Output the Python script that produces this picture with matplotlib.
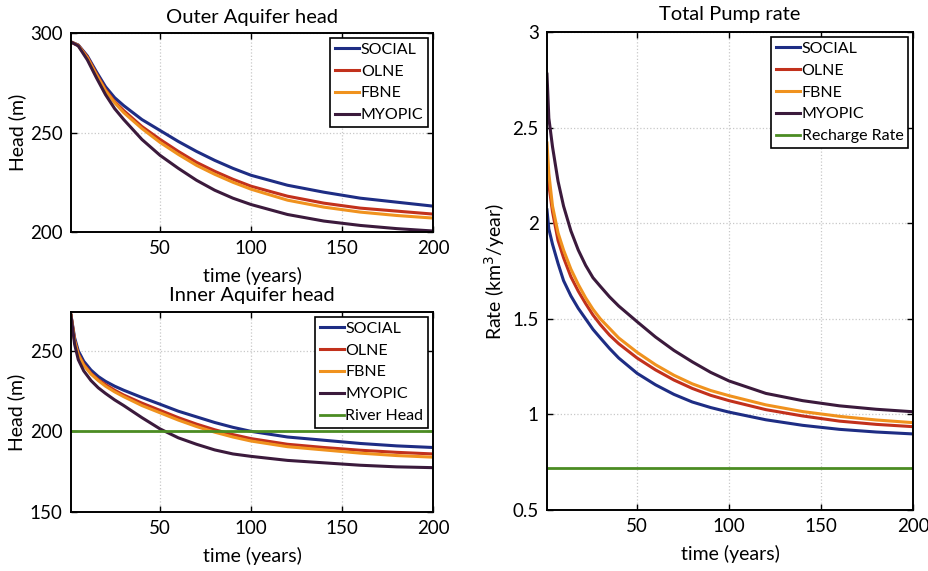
import numpy as np
import matplotlib
matplotlib.use('Agg')
import matplotlib.pyplot as plt

plt.rcParams['font.family'] = ['Lato', 'DejaVu Sans']

labels = ['SOCIAL', 'OLNE', 'FBNE', 'MYOPIC']
colors = ['#1e2d84', '#c2311c', '#f0921e', '#3b1a3c']
green = '#4b8c22'

# outer aquifer head (m)
t_outer = [1, 5, 10, 15, 20, 25, 30, 40, 50, 60, 70, 80, 90, 100, 120, 140, 160, 180, 200]
outer_social = [295.5, 294, 288.5, 280.5, 273, 267.5, 263.5, 256.5, 251, 245.5, 240.5, 236, 232, 228.5, 223.5, 220, 217, 215, 213]
outer_olne = [295.5, 293.8, 288, 279.5, 271.5, 265.5, 261, 253, 246.5, 240.5, 235, 230.5, 226.5, 223, 218, 214.5, 212, 210.5, 209]
outer_fbne = [295.5, 293.7, 287.5, 279, 271, 265, 260, 252, 245, 239, 233.5, 229, 225, 221.5, 216, 212.5, 210, 208.3, 207]
outer_myopic = [295.5, 293.5, 286.5, 277.5, 269, 262, 256.5, 246.5, 238.5, 232, 226, 221, 217, 213.8, 208.8, 205.5, 203.3, 201.7, 200.5]

# inner aquifer head (m)
t_inner = [1, 3, 5, 8, 12, 16, 20, 25, 30, 40, 50, 60, 70, 80, 90, 100, 120, 140, 160, 180, 200]
inner_social = [272, 258, 250, 243.5, 238, 234, 231, 228, 225.5, 221, 216.8, 212.5, 209, 205.5, 202.5, 200, 196.5, 194.5, 192.5, 191, 190]
inner_olne = [272, 256.5, 248, 241.5, 236, 232, 229, 225.5, 222.5, 217.5, 213, 208.5, 204.5, 201, 198, 195.5, 192, 190, 188.3, 187, 186]
inner_fbne = [272, 256, 247.5, 241, 235.5, 231.5, 228, 224.5, 221.5, 216, 211.5, 207, 203, 199.5, 196.5, 194, 190.5, 188.5, 186.5, 185, 184]
inner_myopic = [272, 254, 244.5, 237.5, 231.5, 227, 223.5, 219.5, 216, 208.5, 201.5, 196, 192, 188.5, 186, 184.5, 182, 180.5, 179, 178, 177.5]
river_t = [1, 200]
river_head = [200, 200]

# total pump rate (km3/year)
t_pump = [1, 2, 4, 7, 10, 14, 18, 22, 26, 30, 35, 40, 50, 60, 70, 80, 90, 100, 120, 140, 160, 180, 200]
pump_social = [2.07, 1.97, 1.89, 1.79, 1.70, 1.62, 1.555, 1.50, 1.445, 1.40, 1.345, 1.295, 1.215, 1.155, 1.105, 1.065, 1.036, 1.012, 0.972, 0.943, 0.922, 0.908, 0.898]
pump_olne = [2.33, 2.20, 2.06, 1.91, 1.82, 1.72, 1.645, 1.58, 1.52, 1.47, 1.415, 1.37, 1.295, 1.233, 1.18, 1.136, 1.10, 1.072, 1.025, 0.992, 0.965, 0.948, 0.936]
pump_fbne = [2.42, 2.26, 2.09, 1.95, 1.86, 1.76, 1.68, 1.61, 1.55, 1.50, 1.45, 1.40, 1.325, 1.26, 1.205, 1.16, 1.125, 1.098, 1.05, 1.015, 0.99, 0.971, 0.957]
pump_myopic = [2.78, 2.55, 2.40, 2.22, 2.09, 1.96, 1.86, 1.78, 1.715, 1.67, 1.615, 1.567, 1.485, 1.405, 1.335, 1.275, 1.22, 1.175, 1.11, 1.072, 1.045, 1.027, 1.014]
recharge_t = [1, 200]
recharge_rate = [0.72, 0.72]

fig = plt.figure(figsize=(9.29, 5.71), dpi=100)
ax1 = fig.add_axes([0.0764, 0.5937, 0.3897, 0.3485])
ax2 = fig.add_axes([0.0764, 0.1033, 0.3897, 0.3503])
ax3 = fig.add_axes([0.5888, 0.1068, 0.394, 0.837])


def style(ax):
    ax.set_xlim(1, 200)
    ax.set_xticks([50, 100, 150, 200])
    ax.grid(True, linestyle=':', color='#c8c8c8', linewidth=0.9)
    ax.tick_params(direction='in', top=True, right=True, length=4,
                   labelsize=13.5, width=1, pad=6)
    for s in ax.spines.values():
        s.set_linewidth(1.4)
    ax.set_xlabel('time (years)', fontsize=14, labelpad=7)


def legend(ax):
    leg = ax.legend(loc='upper right', fontsize=11.5, handlelength=1.5,
                    handletextpad=0.1, labelspacing=0.48, borderaxespad=0.3,
                    fancybox=False, framealpha=1, borderpad=0.3)
    leg.get_frame().set_edgecolor('black')
    leg.get_frame().set_linewidth(1.2)


for y, c, l in zip([outer_social, outer_olne, outer_fbne, outer_myopic], colors, labels):
    ax1.plot(t_outer, y, color=c, lw=2.2, label=l)
style(ax1)
ax1.set_ylim(200, 300)
ax1.set_yticks([200, 250, 300])
ax1.set_ylabel('Head (m)', fontsize=14, labelpad=3)
ax1.set_title('Outer Aquifer head', fontsize=14.5, pad=7)
legend(ax1)

for y, c, l in zip([inner_social, inner_olne, inner_fbne, inner_myopic], colors, labels):
    ax2.plot(t_inner, y, color=c, lw=2.2, label=l)
ax2.plot(river_t, river_head, color=green, lw=2, label='River Head')
style(ax2)
ax2.set_ylim(150, 274)
ax2.set_yticks([150, 200, 250])
ax2.set_ylabel('Head (m)', fontsize=14, labelpad=3)
ax2.set_title('Inner Aquifer head', fontsize=14.5, pad=8)
legend(ax2)

for y, c, l in zip([pump_social, pump_olne, pump_fbne, pump_myopic], colors, labels):
    ax3.plot(t_pump, y, color=c, lw=2.2, label=l)
ax3.plot(recharge_t, recharge_rate, color=green, lw=2, label='Recharge Rate')
style(ax3)
ax3.set_ylim(0.5, 3)
ax3.set_yticks([0.5, 1, 1.5, 2, 2.5, 3])
ax3.set_yticklabels(['0.5', '1', '1.5', '2', '2.5', '3'])
ax3.set_ylabel('Rate (km$^3$/year)', fontsize=14, labelpad=4)
ax3.set_title('Total Pump rate', fontsize=14.5, pad=9)
legend(ax3)

fig.savefig('out.png', dpi=100)
